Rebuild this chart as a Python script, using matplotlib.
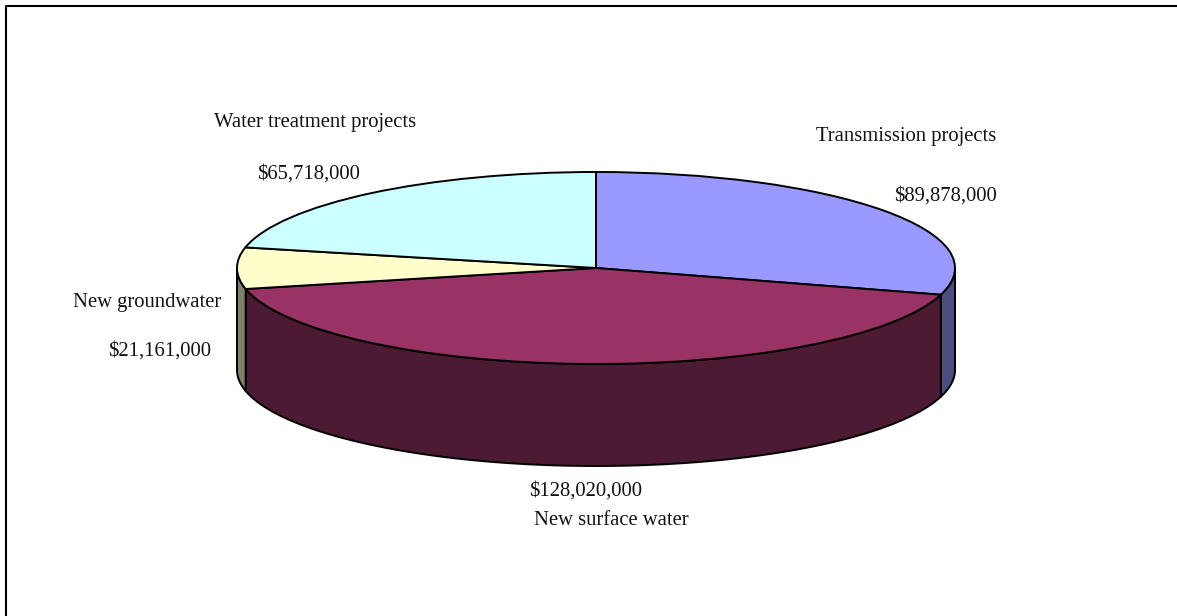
import numpy as np
import matplotlib
matplotlib.use("Agg")
import matplotlib.pyplot as plt

names = ["Transmission projects", "New surface water", "New groundwater", "Water treatment projects"]
values = [89878000, 128020000, 21161000, 65718000]
value_labels = ["$89,878,000", "$128,020,000", "$21,161,000", "$65,718,000"]
top_colors = ["#9999ff", "#993366", "#ffffcc", "#ccffff"]
side_colors = ["#4d4d80", "#4d1a33", "#808066", "#668080"]

W, H = 1177, 616
CX, CY = 596, 268
RX, RY = 359, 96
DEPTH = 102 / RY

plt.rcParams["font.family"] = ["Liberation Serif", "DejaVu Serif"]

fig = plt.figure(figsize=(W / 100, H / 100), dpi=100)
ax = fig.add_axes([0, 0, 1, 1])

# top of the pie, clockwise from 12 o'clock
ax.pie(values, colors=top_colors, startangle=90, counterclock=False, radius=1,
       wedgeprops={"edgecolor": "black", "linewidth": 1.4, "zorder": 5})

# the pie stays circular in data units, the axes limits squash it
ax.set_aspect("auto")
ax.set_xlim(-CX / RX, (W - CX) / RX)
ax.set_ylim((CY - H) / RY, CY / RY)

# outer wall, only the part facing the viewer (90..270 deg from the top)
edges = np.cumsum([0] + values) / sum(values) * 2 * np.pi
for i in range(len(values)):
    a = max(edges[i], np.pi / 2)
    b = min(edges[i + 1], 3 * np.pi / 2)
    if b <= a:
        continue
    t = np.linspace(a, b, 200)
    x = np.sin(t)
    y = np.cos(t)
    ax.fill(np.r_[x, x[::-1]], np.r_[y, y[::-1] - DEPTH], facecolor=side_colors[i],
            edgecolor="black", linewidth=1.4, zorder=3)

# frame round the chart area, only left and top edges are inside the image
fig.add_artist(plt.Line2D([6 / W, 6 / W, 1], [0, 1 - 6 / H, 1 - 6 / H],
                          color="black", linewidth=1.5))

label_pos = [(906, 141), (611, 525), (147, 307), (315, 127)]
value_pos = [(945, 201), (586, 496), (160, 356), (309, 179)]
for i in range(len(values)):
    fig.text(label_pos[i][0] / W, 1 - label_pos[i][1] / H, names[i], fontsize=14.9,
             ha="center", va="baseline", color="#111111")
    fig.text(value_pos[i][0] / W, 1 - value_pos[i][1] / H, value_labels[i], fontsize=14.9,
             ha="center", va="baseline", color="#111111")

fig.savefig("out.png", dpi=100)
